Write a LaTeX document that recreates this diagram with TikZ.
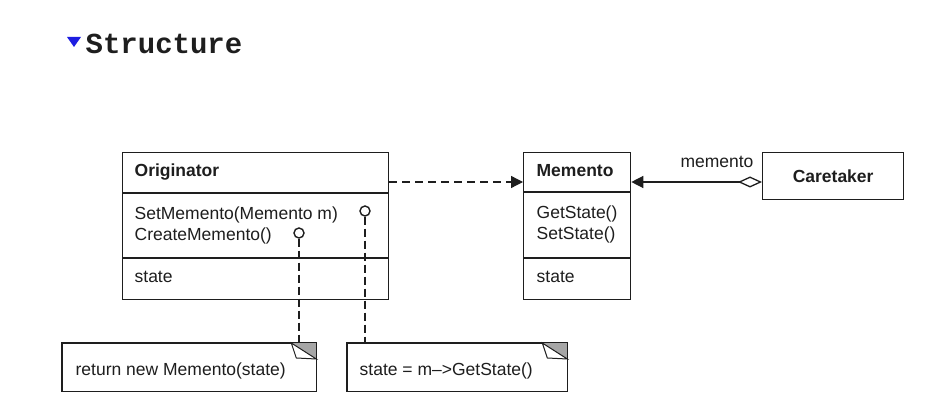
\documentclass[tikz,border=0pt]{standalone}
\usepackage{fontspec}
\setmainfont{Liberation Sans}
\newfontfamily\headfont{Liberation Mono}
\usetikzlibrary{arrows.meta}
\definecolor{ink}{HTML}{1E1E1E}
\definecolor{foldgray}{HTML}{A6A6A6}
\definecolor{bluemark}{RGB}{30,30,225}

% dog-eared note outline around an (invisible) node
\newcommand{\dognote}[1]{%
  \draw (#1.north west) rectangle (#1.south east);
  \fill[foldgray] ([xshift=-25pt]#1.north east) -- (#1.north east)
        -- ([yshift=-16pt]#1.north east) -- cycle;
  \draw[fill=white, line width=1pt] ([xshift=-25pt]#1.north east)
        -- ([xshift=-20pt,yshift=-15pt]#1.north east)
        -- ([yshift=-16pt]#1.north east) -- cycle;
  \draw (#1.north east) -- ([yshift=-16pt]#1.north east);
}

\begin{document}
\begin{tikzpicture}[x=1pt,y=-1pt,line width=1.3pt,color=ink,
  classbox/.style={draw, rectangle, inner sep=0pt, anchor=north west},
  notebox/.style={rectangle, inner sep=0pt, anchor=north west},
  txt/.style={font=\fontsize{17.5}{20}\selectfont, inner sep=0pt, anchor=base west},
  boldtxt/.style={font=\fontsize{17.5}{20}\selectfont\bfseries, inner sep=0pt, anchor=base west},
  pinhead/.style={draw, circle, fill=white, minimum size=10pt, inner sep=0pt, line width=1.4pt},
  pinline/.style={line width=1.3pt, dash pattern=on 8pt off 4pt},
  depline/.style={dash pattern=on 8pt off 5pt, -{Triangle[length=12pt,width=12pt]}},
]
\fill[white] (0,0) rectangle (949,419);
\useasboundingbox (0,0) rectangle (949,419);

% heading
\fill[bluemark] (67,37) -- (81,37) -- (74,47) -- cycle;
\node[font=\headfont\bfseries\fontsize{29}{32}\selectfont, anchor=base west, inner sep=0pt]
  (title) at (85,54) {Structure};

% classes
\node[classbox, minimum width=266pt, minimum height=147pt] (orig) at (122,152) {};
\draw (orig.west |- 0,193) -- (orig.east |- 0,193);
\draw (orig.west |- 0,258) -- (orig.east |- 0,258);
\node[boldtxt] (origname) at (134,177) {Originator};
\node[txt] (origop1) at (134,220) {SetMemento(Memento m)};
\node[txt] (origop2) at (134,241) {CreateMemento()};
\node[txt] (origattr) at (134,283) {state};

\node[classbox, minimum width=107pt, minimum height=147pt] (mem) at (523,152) {};
\draw (mem.west |- 0,192) -- (mem.east |- 0,192);
\draw (mem.west |- 0,258) -- (mem.east |- 0,258);
\node[boldtxt] (memname) at (536,177) {Memento};
\node[txt] (memop1) at (536,219) {GetState()};
\node[txt] (memop2) at (536,240) {SetState()};
\node[txt] (memattr) at (536,283) {state};

\node[classbox, minimum width=141pt, minimum height=47pt] (care) at (762,152) {};
\node[boldtxt, anchor=center] (carename) at (care.center) {Caretaker};

% relations
\coordinate (linkrow) at (0,182);
\draw[depline] (orig.east |- linkrow) -- (mem.west |- linkrow);
\draw[{Triangle[length=12pt,width=12pt]}-{Diamond[open,length=24pt,width=11pt]}]
  (mem.east |- linkrow) -- (care.west |- linkrow);
\node[txt, anchor=base] (rolename) at (717,168) {memento};

% notes
\node[notebox, minimum width=253pt, minimum height=47pt] (notecreate) at (62,343) {};
\node[notebox, minimum width=219pt, minimum height=47pt] (noteset) at (347,343) {};
\dognote{notecreate}
\dognote{noteset}
\node[txt] (notecreatetext) at (75,375) {return new Memento(state)};
\node[txt] (notesettext) at (359,375) {state = m–>GetState()};

% note anchors on the operations
\node[pinhead] (pinset) at (365,211) {};
\node[pinhead] (pincreate) at (299,233) {};
\draw[pinline] (pinset.south) -- (pinset.south |- noteset.north);
\draw[pinline] (pincreate.south) -- (pincreate.south |- notecreate.north);
\end{tikzpicture}
\end{document}
